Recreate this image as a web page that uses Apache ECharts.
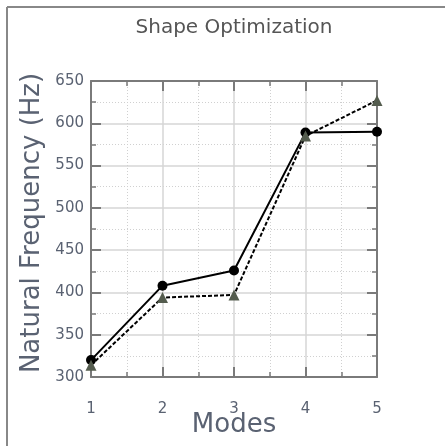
<!DOCTYPE html>
<html><head><meta charset="utf-8">
<script src="https://cdn.jsdelivr.net/npm/echarts@6/dist/echarts.min.js"></script>
<style>html,body{margin:0;padding:0;background:#fff}#c{width:445px;height:446px}</style>
</head><body><div id="c"></div>
<script>
const modes = [1, 2, 3, 4, 5];
const seriesA = [320, 408, 426, 589, 590];
const seriesB = [314, 394, 397, 585, 627];
const titleText = 'Shape Optimization';
const xName = 'Modes';
const yName = 'Natural Frequency (Hz)';

const chart = echarts.init(document.getElementById('c'));
const labelColor = '#5a6272';
const axisGray = '#7a7a7a';
const common = {
  axisLine: {show: true, lineStyle: {color: axisGray, width: 2}},
  axisTick: {show: true, inside: true, length: 10, lineStyle: {color: axisGray, width: 2}},
  minorTick: {show: true, splitNumber: 2, length: 5, lineStyle: {color: axisGray, width: 1.5}},
};
chart.setOption({
  animation: false,
  graphic: [
    {type: 'line', shape: {x1: 7, y1: 7, x2: 445, y2: 7}, style: {stroke: '#888', lineWidth: 2}},
    {type: 'line', shape: {x1: 7, y1: 7, x2: 7, y2: 446}, style: {stroke: '#888', lineWidth: 2}}
  ],
  title: {text: titleText, left: 229, top: 13, textAlign: 'center',
    textStyle: {fontFamily: 'DejaVu Sans', fontSize: 20, fontWeight: 'normal', color: '#555'}},
  grid: {left: 91, right: 68, top: 81, bottom: 69, containLabel: false, outerBoundsMode: 'none'},
  xAxis: [
    Object.assign({type: 'value', min: 1, max: 5, interval: 1, position: 'bottom',
      name: xName, nameLocation: 'middle', nameGap: 31, nameMoveOverlap: false,
      nameTextStyle: {fontFamily: 'DejaVu Sans', fontSize: 26, color: labelColor, backgroundColor: '#fff', padding: [4, 2, 0, 2]},
      axisLabel: {margin: 25, fontFamily: 'DejaVu Sans', fontSize: 15, color: labelColor},
      splitLine: {show: true, lineStyle: {color: '#d6d6d6', width: 1.5}},
      minorSplitLine: {show: true, lineStyle: {color: '#d0d0d0', type: [1, 2], width: 1}}}, common),
    Object.assign({type: 'value', min: 1, max: 5, interval: 1, position: 'top',
      axisLabel: {show: false}, splitLine: {show: false}}, common)
  ],
  yAxis: [
    Object.assign({type: 'value', min: 300, max: 650, interval: 50, position: 'left',
      name: yName, nameLocation: 'middle', nameGap: 46, nameMoveOverlap: false,
      nameTextStyle: {fontFamily: 'DejaVu Sans', fontSize: 26, color: labelColor, padding: [0, 0, 0, 12]},
      axisLabel: {margin: 7, fontFamily: 'DejaVu Sans', fontSize: 15, color: labelColor},
      splitLine: {show: true, lineStyle: {color: '#d6d6d6', width: 1.5}},
      minorSplitLine: {show: true, lineStyle: {color: '#d0d0d0', type: [1, 2], width: 1}}}, common),
    Object.assign({type: 'value', min: 300, max: 650, interval: 50, position: 'right',
      axisLabel: {show: false}, splitLine: {show: false}}, common)
  ],
  series: [
    {type: 'line', data: modes.map((m, i) => [m, seriesA[i]]), symbol: 'circle', symbolSize: 10,
      itemStyle: {color: '#000'}, lineStyle: {color: '#000', width: 2}, z: 3},
    {type: 'line', data: modes.map((m, i) => [m, seriesB[i]]), symbol: 'triangle', symbolSize: 11,
      itemStyle: {color: '#545c4e'}, lineStyle: {color: '#000', width: 2, type: [4, 2]}, z: 4}
  ]
});
</script></body></html>
